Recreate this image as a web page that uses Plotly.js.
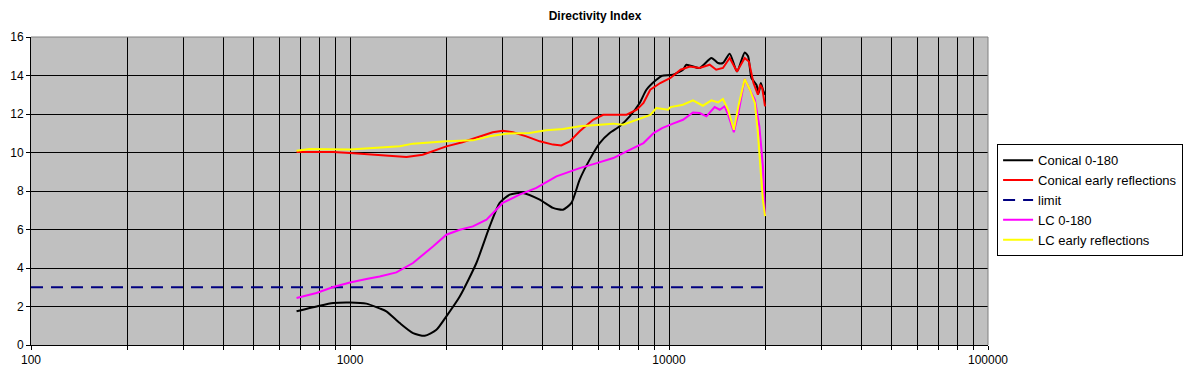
<!DOCTYPE html>
<html>
<head>
<meta charset="utf-8">
<script src="https://cdn.plot.ly/plotly-3.0.1.min.js"></script>
<style>html,body{margin:0;padding:0;background:#fff;}#chart{width:1190px;height:378px;}</style>
</head>
<body>
<div id="chart"></div>
<script>
// ---- data ----
const chartTitle = "Directivity Index";
const seriesNames = ["Conical 0-180", "Conical early reflections", "limit", "LC 0-180", "LC early reflections"];

const conicalFreq = [680, 803, 886, 1000, 1126, 1239, 1300, 1432, 1576, 1715, 1866, 2005, 2208, 2490, 2741, 2946, 3168, 3486, 3933, 4329, 4653, 4944, 5248, 5640, 6064, 6517, 7003, 7530, 8093, 8494, 9128, 9512, 10291, 11065, 11337, 12478, 13581, 14242, 14762, 15500, 16336, 17270, 17700, 18130, 18790, 19100, 19400, 19700, 20000];
const conicalVal  = [1.75, 2.04, 2.18, 2.21, 2.15, 1.9, 1.75, 1.14, 0.62, 0.48, 0.79, 1.49, 2.52, 4.26, 6.16, 7.38, 7.81, 7.90, 7.55, 7.12, 7.03, 7.38, 8.59, 9.63, 10.49, 11.01, 11.36, 11.88, 12.57, 13.26, 13.78, 13.99, 14.04, 14.30, 14.56, 14.39, 14.91, 14.65, 14.65, 15.13, 14.21, 15.2, 15.0, 13.87, 13.52, 13.09, 13.61, 13.26, 13.0];

const conicalERFreq = [680, 886, 1000, 1126, 1239, 1432, 1503, 1690, 1866, 2005, 2251, 2547, 2801, 3012, 3241, 3571, 3933, 4329, 4597, 4884, 5248, 5782, 6216, 6688, 7365, 7926, 8317, 8737, 9387, 10106, 10870, 11620, 12478, 13414, 14060, 14762, 15500, 16336, 17270, 17800, 18400, 19000, 19300, 19600, 20000];
const conicalERVal  = [10.03, 10.03, 9.97, 9.92, 9.88, 9.80, 9.77, 9.88, 10.15, 10.32, 10.53, 10.84, 11.05, 11.13, 11.05, 10.84, 10.58, 10.41, 10.37, 10.58, 11.10, 11.70, 11.96, 11.96, 11.96, 12.22, 12.57, 13.26, 13.61, 13.87, 14.30, 14.47, 14.39, 14.56, 14.30, 14.39, 14.91, 14.21, 14.91, 14.73, 13.61, 13.0, 13.52, 13.35, 12.4];

const limitFreq = [100, 20000];
const limitVal  = [3, 3];

const lcFreq = [680, 785, 886, 1000, 1126, 1239, 1398, 1576, 1820, 2005, 2208, 2428, 2679, 3012, 3400, 3839, 4437, 5248, 5937, 6688, 7365, 8317, 8950, 9512, 10291, 11065, 11890, 12478, 13100, 13900, 14430, 14950, 15320, 15970, 16500, 17270, 17930, 18590, 19200, 19700, 20000];
const lcVal  = [2.44, 2.70, 3.01, 3.25, 3.43, 3.56, 3.77, 4.26, 5.12, 5.73, 5.99, 6.16, 6.51, 7.38, 7.81, 8.16, 8.76, 9.19, 9.45, 9.71, 10.06, 10.49, 11.01, 11.27, 11.50, 11.70, 12.08, 12.05, 11.88, 12.36, 12.22, 12.40, 11.96, 11.05, 12.05, 13.82, 13.26, 12.74, 11.36, 9.28, 6.7];

const lcERFreq = [680, 747, 1000, 1126, 1239, 1432, 1576, 2005, 2428, 2741, 3083, 3651, 4119, 4653, 5248, 5937, 6688, 7175, 7926, 8737, 9128, 9930, 10106, 10640, 11065, 11890, 12770, 13581, 14242, 14762, 15320, 15970, 16500, 17270, 17930, 18590, 19000, 19400, 19700, 20000];
const lcERVal  = [10.09, 10.18, 10.15, 10.2, 10.23, 10.32, 10.46, 10.58, 10.63, 10.84, 10.98, 11.01, 11.15, 11.22, 11.36, 11.44, 11.50, 11.44, 11.70, 11.95, 12.31, 12.22, 12.36, 12.43, 12.48, 12.71, 12.43, 12.71, 12.60, 12.78, 12.22, 11.18, 12.4, 13.82, 13.26, 12.57, 11.0, 8.94, 7.55, 6.7];

const xTickVals = [100,200,300,400,500,600,700,800,900,1000,2000,3000,4000,5000,6000,7000,8000,9000,10000,20000,30000,40000,50000,60000,70000,80000,90000,100000];
const xTickText = xTickVals.map(v => [100,1000,10000,100000].includes(v) ? String(v) : "");
const yTickVals = [0,2,4,6,8,10,12,14,16];

// ---- chart ----
const font = "Liberation Sans, Arial, sans-serif";
const traces = [
  {x: conicalFreq, y: conicalVal, name: seriesNames[0], legendgroup: "a", mode: "lines", line: {color: "#000000", width: 2, shape: "spline", smoothing: 0.6}},
  {x: conicalERFreq, y: conicalERVal, name: seriesNames[1], legendgroup: "b", mode: "lines", line: {color: "#ff0000", width: 2}},
  {x: limitFreq, y: limitVal, name: seriesNames[2], legendgroup: "c", mode: "lines", line: {color: "#000080", width: 2, dash: "12px,8px"}},
  {x: lcFreq, y: lcVal, name: seriesNames[3], legendgroup: "d", mode: "lines", line: {color: "#ff00ff", width: 2}},
  {x: lcERFreq, y: lcERVal, name: seriesNames[4], legendgroup: "e", mode: "lines", line: {color: "#ffff00", width: 2}}
];

const layout = {
  width: 1190, height: 378,
  margin: {l: 31, r: 202, t: 37, b: 33, pad: 0, autoexpand: false},
  paper_bgcolor: "#ffffff",
  plot_bgcolor: "#c0c0c0",
  font: {family: font, size: 12, color: "#000"},
  title: {text: "<b>" + chartTitle + "</b>", font: {family: font, size: 12, color: "#000"}, x: 0.5, xanchor: "center", y: 0.958, yanchor: "middle"},
  showlegend: true,
  legend: {x: 1.0095, xanchor: "left", y: 0.652, yanchor: "top", bgcolor: "#ffffff", bordercolor: "#000000", borderwidth: 1,
           font: {family: font, size: 13, color: "#000"}, tracegroupgap: 0, itemwidth: 30, traceorder: "normal"},
  xaxis: {type: "log", range: [2, 5], tickvals: xTickVals, ticktext: xTickText, showgrid: true, gridcolor: "#000000", gridwidth: 1,
          showline: true, linecolor: "#000000", linewidth: 1, mirror: false, ticks: "outside", ticklen: 4, tickcolor: "#000000",
          zeroline: false, tickfont: {family: font, size: 12, color: "#000"}, fixedrange: true},
  yaxis: {range: [0, 16], tickvals: yTickVals, showgrid: true, gridcolor: "#000000", gridwidth: 1,
          showline: true, linecolor: "#000000", linewidth: 1, mirror: false, ticks: "outside", ticklen: 4, tickcolor: "#000000",
          zeroline: false, tickfont: {family: font, size: 12, color: "#000"}, fixedrange: true},
  shapes: [
    {type: "line", xref: "paper", yref: "paper", x0: 0, x1: 1, y0: 1, y1: 1, line: {color: "#808080", width: 1}, layer: "above"},
    {type: "line", xref: "paper", yref: "paper", x0: 1, x1: 1, y0: 0, y1: 1, line: {color: "#808080", width: 1}, layer: "above"}
  ]
};

Plotly.newPlot("chart", traces, layout, {displayModeBar: false, staticPlot: true});
</script>
</body>
</html>
